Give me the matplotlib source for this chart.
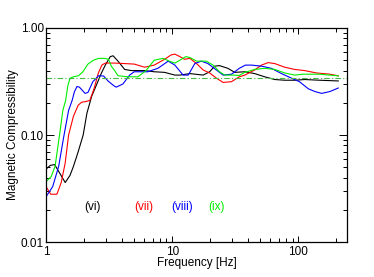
import matplotlib
matplotlib.use("Agg")
import matplotlib.pyplot as plt
from matplotlib.ticker import FixedLocator, LogLocator, NullFormatter

plt.rcParams['font.family'] = ['Liberation Sans', 'DejaVu Sans']

f_vi = [1.0, 1.08, 1.17, 1.3, 1.42, 1.55, 1.65, 1.8, 1.97, 2.11, 2.3, 2.53, 2.75, 2.95, 3.23, 3.4,
        3.72, 4.2, 4.74, 6.05, 7.2, 8.7, 10.5, 11.5, 13.8, 17.6, 19.8, 21.7, 23.7, 27.6, 31.3, 37.6,
        45, 54, 65, 78, 93.5, 112, 148, 207]
v_vi = [0.048, 0.052, 0.053, 0.043, 0.036, 0.042, 0.051, 0.07, 0.10, 0.16, 0.23, 0.30, 0.38, 0.45,
        0.54, 0.55, 0.49, 0.41, 0.40, 0.40, 0.39, 0.385, 0.363, 0.363, 0.375, 0.363, 0.39, 0.44,
        0.445, 0.42, 0.385, 0.39, 0.375, 0.35, 0.33, 0.325, 0.325, 0.33, 0.325, 0.32]

f_vii = [1.0, 1.09, 1.22, 1.32, 1.42, 1.51, 1.65, 1.8, 1.92, 2.05, 2.22, 2.4, 2.6, 2.77, 2.95, 3.5,
         4.2, 5.0, 6.05, 7.2, 8.7, 9.8, 10.5, 11.5, 12.5, 13.8, 15.6, 17.6, 19.8, 22.4, 25.3, 29.5,
         34, 37.6, 45, 51, 57.6, 65, 78, 93.5, 112, 139, 178, 207]
v_vii = [0.033, 0.028, 0.028, 0.036, 0.055, 0.10, 0.15, 0.19, 0.203, 0.205, 0.21, 0.27, 0.38, 0.45,
         0.47, 0.47, 0.465, 0.46, 0.43, 0.45, 0.51, 0.56, 0.57, 0.54, 0.51, 0.52, 0.465, 0.405,
         0.38, 0.34, 0.31, 0.315, 0.35, 0.363, 0.405, 0.45, 0.475, 0.465, 0.43, 0.41, 0.40, 0.38,
         0.37, 0.357]

f_viii = [1.0, 1.13, 1.26, 1.39, 1.51, 1.61, 1.68, 1.76, 1.84, 2.04, 2.15, 2.35, 2.61, 2.86, 3.1,
          3.43, 3.6, 4.07, 4.6, 5.0, 6.4, 7.7, 9.3, 10.5, 12.2, 13.4, 15.1, 17.0, 19.2, 22.4, 25.3,
          29.5, 34, 38, 42.5, 51, 61, 73.5, 88, 102, 120, 135, 153, 178, 207]
v_viii = [0.0265, 0.033, 0.051, 0.10, 0.17, 0.21, 0.254, 0.284, 0.28, 0.245, 0.25, 0.315, 0.358,
          0.356, 0.32, 0.29, 0.28, 0.30, 0.363, 0.39, 0.39, 0.42, 0.49, 0.45, 0.363, 0.363, 0.465,
          0.49, 0.465, 0.405, 0.363, 0.37, 0.42, 0.45, 0.45, 0.44, 0.42, 0.375, 0.34, 0.315, 0.27,
          0.255, 0.245, 0.255, 0.275]

f_ix = [1.0, 1.1, 1.18, 1.28, 1.36, 1.43, 1.49, 1.55, 1.65, 1.81, 1.96, 2.15, 2.38, 2.61, 2.9,
        3.13, 3.29, 3.5, 3.72, 4.45, 5.35, 6.2, 7.2, 8.45, 9.5, 10.5, 11.5, 12.8, 13.8, 15.6, 18.6,
        21.1, 23.7, 26.1, 30.4, 34, 37.6, 45, 54, 65, 78, 93.5, 108, 148, 207]
v_ix = [0.0366, 0.041, 0.051, 0.10, 0.17, 0.21, 0.29, 0.339, 0.35, 0.358, 0.39, 0.46, 0.50, 0.52,
        0.52, 0.51, 0.44, 0.40, 0.358, 0.35, 0.35, 0.40, 0.50, 0.52, 0.49, 0.47, 0.50, 0.54, 0.53,
        0.49, 0.49, 0.45, 0.39, 0.363, 0.363, 0.36, 0.385, 0.41, 0.42, 0.41, 0.38, 0.363, 0.37,
        0.37, 0.357]

ref_level = 0.34
labels = ["(vi)", "(vii)", "(viii)", "(ix)"]
label_x = [2.33, 5.94, 11.9, 22.6]
label_y = 0.0213
colors = ["black", "#ff0000", "#0000ff", "#00ee00"]

fig = plt.figure(figsize=(3.74, 2.77), dpi=100)
ax = fig.add_axes([0.123, 0.126, 0.805, 0.773])

series = [(f_vi, v_vi), (f_vii, v_vii), (f_viii, v_viii), (f_ix, v_ix)]
for (f, v), c in zip(series, colors):
    ax.plot(f, v, color=c, lw=0.8)

ax.axhline(ref_level, color="#44bb44", lw=0.8, ls=(0, (5, 2, 1, 2)))

for t, x, c in zip(labels, label_x, colors):
    ax.text(x, label_y, t, color=c, ha="center", va="center", fontsize=8.5)

ax.set_xscale("log")
ax.set_yscale("log")
ax.set_xlim(1, 243)
ax.set_ylim(0.01, 1.0)

ax.xaxis.set_major_locator(FixedLocator([1, 10, 100]))
ax.set_xticklabels(["1", "10", "100"])
ax.xaxis.set_minor_locator(LogLocator(base=10, subs=range(2, 10)))
ax.xaxis.set_minor_formatter(NullFormatter())
ax.yaxis.set_major_locator(FixedLocator([0.01, 0.1, 1.0]))
ax.set_yticklabels(["0.01", "0.10", "1.00"])
ax.yaxis.set_minor_locator(LogLocator(base=10, subs=range(2, 10)))
ax.yaxis.set_minor_formatter(NullFormatter())

ax.tick_params(which="both", direction="in", top=True, right=True, labelsize=8.5, width=0.7)
ax.tick_params(axis="x", which="major", length=4.5, pad=3)
ax.tick_params(axis="y", which="major", length=5.5, pad=1.5)
ax.tick_params(which="minor", length=2.8)
for s in ax.spines.values():
    s.set_linewidth(0.9)

ax.set_xlabel("Frequency [Hz]", fontsize=8.5, labelpad=-1)
ax.set_ylabel("Magnetic Compressibility", fontsize=8.5, labelpad=1)

fig.savefig("out.png", dpi=100)
